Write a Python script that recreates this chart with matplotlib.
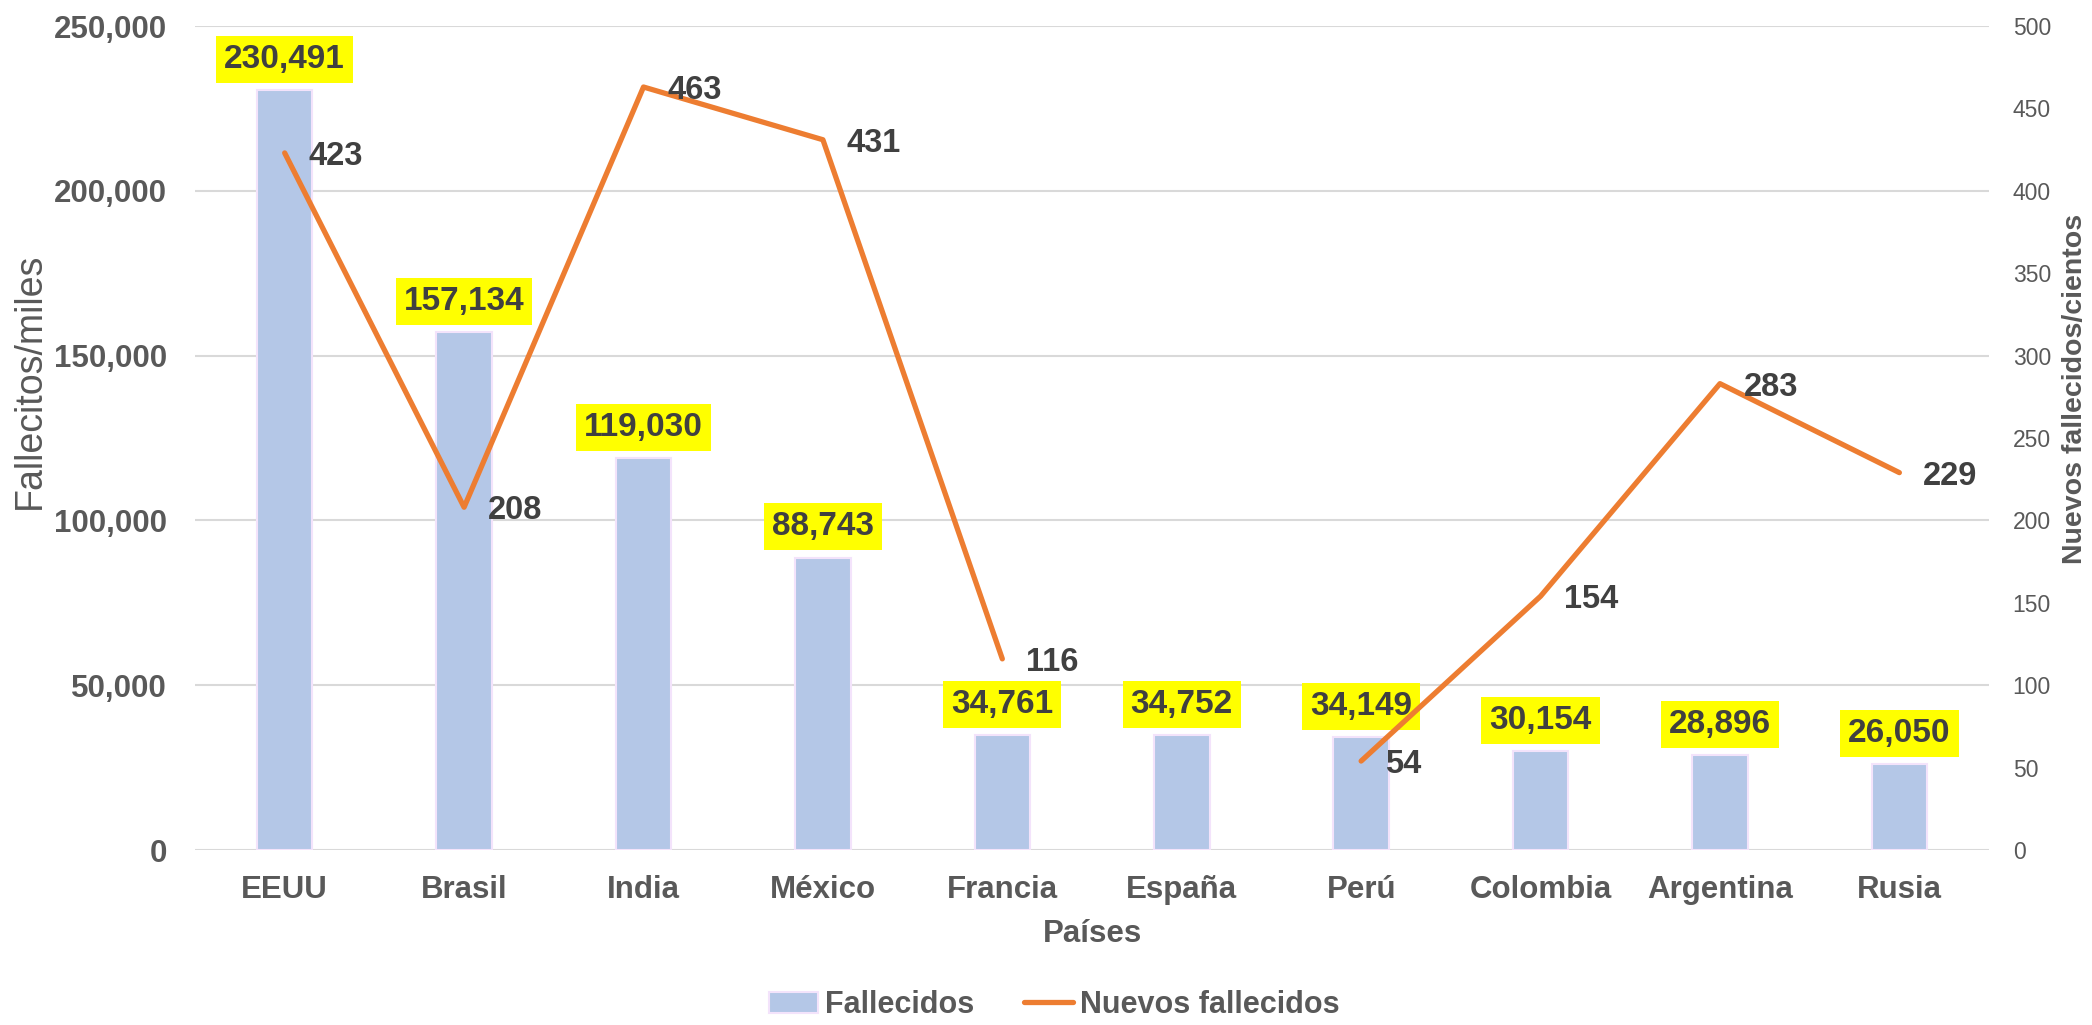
import numpy as np
import matplotlib

matplotlib.use("Agg")
import matplotlib.pyplot as plt
from matplotlib.ticker import FuncFormatter, MultipleLocator


PAISES = ["EEUU", "Brasil", "India", "México", "Francia",
          "España", "Perú", "Colombia", "Argentina", "Rusia"]
FALLECIDOS = [230491, 157134, 119030, 88743, 34761,
              34752, 34149, 30154, 28896, 26050]
# España no tiene dato de nuevos fallecidos (la línea se corta)
NUEVOS = [423, 208, 463, 431, 116, np.nan, 54, 154, 283, 229]

BAR_COLOR = "#B4C7E7"
BAR_EDGE = "#F3E3FB"
LINE_COLOR = "#ED7D31"
TICK_COLOR = "#595959"
LABEL_COLOR = "#404040"
GRID_COLOR = "#D9D9D9"


def main():
    plt.rcParams["font.family"] = ["Liberation Sans", "DejaVu Sans"]

    fig = plt.figure(figsize=(20.92, 10.25), dpi=100)
    ax = fig.add_axes([0.0932, 0.1707, 0.8576, 0.8039])
    ax2 = ax.twinx()

    x = np.arange(len(PAISES))

    bars = ax.bar(
        x, FALLECIDOS, width=0.31,
        color=BAR_COLOR, edgecolor=BAR_EDGE, linewidth=1.5,
        label="Fallecidos", zorder=2,
    )
    line, = ax2.plot(
        x, NUEVOS, color=LINE_COLOR, linewidth=3.8,
        solid_capstyle="round", label="Nuevos fallecidos", zorder=3,
    )

    ax.set_xlim(-0.5, len(PAISES) - 0.5)
    ax.set_ylim(0, 250000)
    ax2.set_ylim(0, 500)
    ax.yaxis.set_major_locator(MultipleLocator(50000))
    ax2.yaxis.set_major_locator(MultipleLocator(50))
    ax.yaxis.set_major_formatter(FuncFormatter(lambda v, p: f"{int(v):,}"))

    ax.grid(axis="y", color=GRID_COLOR, linewidth=1.5, zorder=0)
    ax.set_axisbelow(True)
    for a in (ax, ax2):
        for s in a.spines.values():
            s.set_visible(False)

    ax.set_xticks(x)
    ax.set_xticklabels(PAISES)
    ax.tick_params(axis="x", length=0, pad=18, labelsize=22.5,
                   labelcolor=TICK_COLOR)
    for t in ax.get_xticklabels():
        t.set_fontweight("bold")
    ax.tick_params(axis="y", length=0, pad=20, labelsize=22.5,
                   labelcolor=TICK_COLOR)
    for t in ax.get_yticklabels():
        t.set_fontweight("bold")
    ax2.tick_params(axis="y", length=0, pad=17, labelsize=16.5,
                    labelcolor=TICK_COLOR)

    # etiquetas de las barras con fondo amarillo
    for xi, v in zip(x, FALLECIDOS):
        ax.annotate(
            f"{v:,}", (xi, v), xytext=(0, 22), textcoords="offset points",
            ha="center", va="center", fontsize=24, fontweight="bold",
            color=LABEL_COLOR, zorder=5,
            bbox=dict(boxstyle="square,pad=0.24", facecolor="#FFFF00",
                      edgecolor="none"),
        )

    # etiquetas de la línea
    for xi, v in zip(x, NUEVOS):
        if np.isnan(v):
            continue
        ax2.annotate(
            f"{int(v)}", (xi, v), xytext=(17, 0), textcoords="offset points",
            ha="left", va="center_baseline", fontsize=23.5, fontweight="bold",
            color=LABEL_COLOR, zorder=5,
        )

    ax.text(0.5, -0.102, "Países", transform=ax.transAxes,
            ha="center", va="center", fontsize=22.5, fontweight="bold",
            color=TICK_COLOR)
    ax.text(-0.092, 0.57, "Fallecitos/miles", transform=ax.transAxes,
            ha="center", va="center", rotation=90, fontsize=27,
            color=TICK_COLOR)
    ax.text(1.048, 0.56, "Nuevos fallecidos/cientos", transform=ax.transAxes,
            ha="center", va="center", rotation=90, fontsize=20.5,
            fontweight="bold", color=TICK_COLOR)

    fig.legend(
        [bars, line], ["Fallecidos", "Nuevos fallecidos"],
        loc="center", bbox_to_anchor=(0.504, 0.0195), ncol=2,
        frameon=False, handlelength=1.6, columnspacing=1.6,
        handletextpad=0.25,
        prop={"size": 22, "weight": "bold"}, labelcolor=TICK_COLOR,
    )

    fig.savefig("out.png", dpi=100)
    plt.close(fig)


if __name__ == "__main__":
    main()
